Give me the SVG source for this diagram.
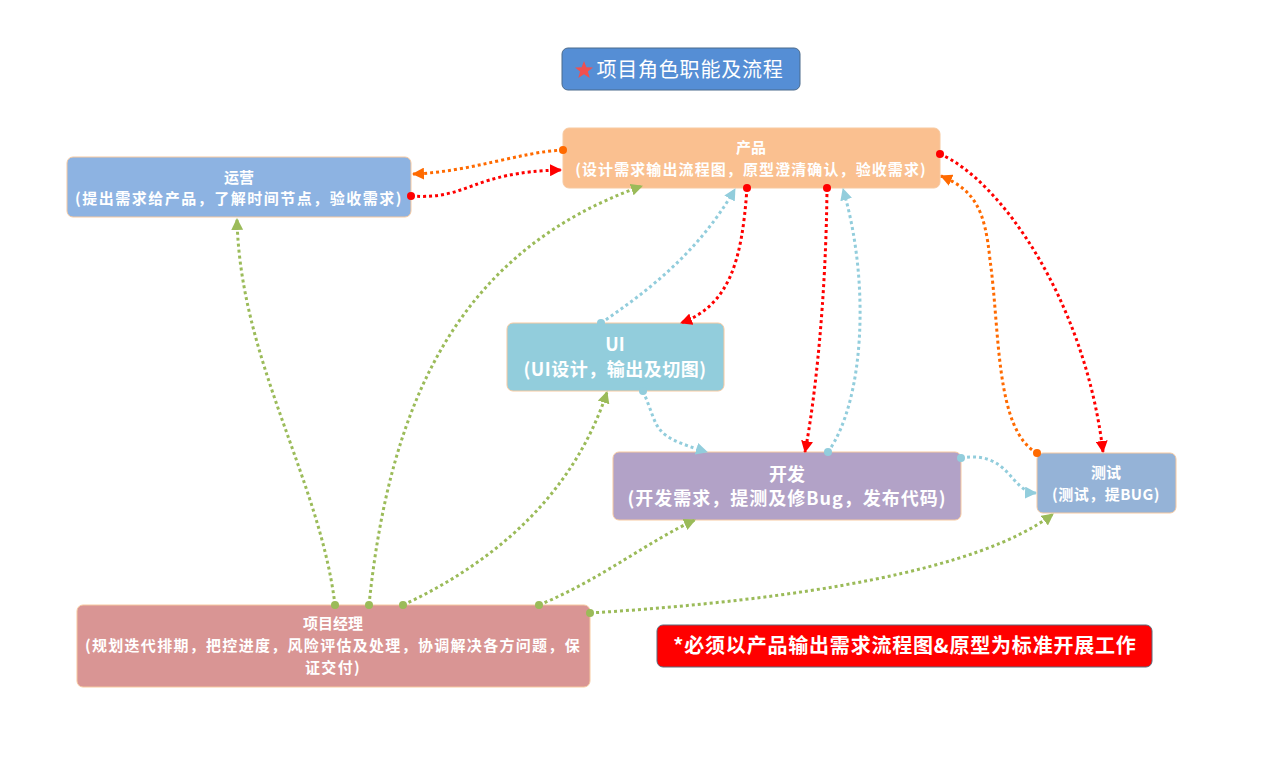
<svg xmlns="http://www.w3.org/2000/svg" width="1267" height="765" viewBox="0 0 1267 765">
<style>
text{font-family:"Microsoft YaHei","Noto Sans CJK SC","Noto Sans",sans-serif;fill:#fff;text-anchor:middle;font-weight:bold}
.box{stroke:#F7C9A0;stroke-width:1}
.c{fill:none;stroke-width:3;stroke-dasharray:3 3}
.g{stroke:#9BBB59}.r{stroke:#FF0000}.o{stroke:#FF6A00}.b{stroke:#92CDDC}
.dg{fill:#9BBB59}.dr{fill:#FF0000}.do{fill:#FF6A00}.db{fill:#92CDDC}
</style>
<defs>
<marker id="ag" viewBox="0 0 12 12" refX="11" refY="6" markerWidth="12" markerHeight="12" markerUnits="userSpaceOnUse" orient="auto"><path d="M0,0 L12,6 L0,12 Z" fill="#9BBB59"/></marker>
<marker id="ar" viewBox="0 0 12 12" refX="11" refY="6" markerWidth="12" markerHeight="12" markerUnits="userSpaceOnUse" orient="auto"><path d="M0,0 L12,6 L0,12 Z" fill="#FF0000"/></marker>
<marker id="ao" viewBox="0 0 12 12" refX="11" refY="6" markerWidth="12" markerHeight="12" markerUnits="userSpaceOnUse" orient="auto"><path d="M0,0 L12,6 L0,12 Z" fill="#FF6A00"/></marker>
<marker id="ab" viewBox="0 0 12 12" refX="11" refY="6" markerWidth="12" markerHeight="12" markerUnits="userSpaceOnUse" orient="auto"><path d="M0,0 L12,6 L0,12 Z" fill="#92CDDC"/></marker>
</defs>
<rect width="1267" height="765" fill="#fff"/>

<g id="title">
<rect x="562" y="48" width="238" height="42" rx="6" fill="#558ED5" stroke="#4A6A8C" stroke-width="1"/>
<path d="M584,61 L586.4,67.2 L593,67.4 L587.9,71.5 L589.7,78 L584,74.3 L578.3,78 L580.1,71.5 L575,67.4 L581.6,67.2 Z" fill="#F05050"/>
<text x="690" y="77" style="font-size:20px;font-weight:normal;letter-spacing:0.8px">项目角色职能及流程</text>
</g>

<g id="yunying">
<rect class="box" x="67" y="157" width="344" height="60" rx="6" fill="#8DB3E2"/>
<text x="239" y="183" style="font-size:15px">运营</text>
<text x="239" y="204" style="font-size:15px;letter-spacing:1.5px">(提出需求给产品，了解时间节点，验收需求)</text>
</g>

<g id="chanpin">
<rect class="box" x="563" y="128" width="377" height="60" rx="6" fill="#FAC090"/>
<text x="751" y="153" style="font-size:15px">产品</text>
<text x="751" y="175" style="font-size:15px;letter-spacing:1.1px">(设计需求输出流程图，原型澄清确认，验收需求)</text>
</g>

<g id="ui">
<rect class="box" x="507" y="323" width="217" height="68" rx="6" fill="#92CDDC"/>
<text x="615" y="351" style="font-size:18px">UI</text>
<text x="615" y="376" style="font-size:18px;letter-spacing:0.5px">(UI设计，输出及切图)</text>
</g>

<g id="kaifa">
<rect class="box" x="613" y="452" width="348" height="68" rx="6" fill="#B2A2C7"/>
<text x="787" y="481" style="font-size:18px">开发</text>
<text x="787" y="505" style="font-size:18px;letter-spacing:1px">(开发需求，提测及修Bug，发布代码)</text>
</g>

<g id="ceshi">
<rect class="box" x="1037" y="453" width="139" height="60" rx="6" fill="#95B3D7"/>
<text x="1106" y="478" style="font-size:15px">测试</text>
<text x="1106" y="500" style="font-size:15px;letter-spacing:0.5px">(测试，提BUG)</text>
</g>

<g id="pm">
<rect class="box" x="77" y="605" width="513" height="82" rx="6" fill="#D99594"/>
<text x="333" y="629" style="font-size:15px">项目经理</text>
<text x="333" y="651" style="font-size:15px;letter-spacing:1.3px">(规划迭代排期，把控进度，风险评估及处理，协调解决各方问题，保</text>
<text x="333" y="673" style="font-size:15px;letter-spacing:1.3px">证交付)</text>
</g>

<g id="note">
<rect x="657" y="625" width="495" height="42" rx="6" fill="#FF0000" stroke="#5A6A7A" stroke-width="1"/>
<text x="905" y="653" style="font-size:20px;letter-spacing:0.8px">*必须以产品输出需求流程图&amp;原型为标准开展工作</text>
</g>

<g id="connectors">
<path class="c o" d="M563,150 C520,152 470,172 413,174" marker-end="url(#ao)"/>
<circle class="do" cx="563" cy="150" r="4"/>
<path class="c r" d="M411,196 C470,200 470,172 561,170" marker-end="url(#ar)"/>
<circle class="dr" cx="411" cy="196" r="4"/>
<path class="c g" d="M335,605 C320,480 240,360 237,219" marker-end="url(#ag)"/>
<circle class="dg" cx="335" cy="605" r="4"/>
<path class="c g" d="M369,605 C390,400 460,250 642,186" marker-end="url(#ag)"/>
<circle class="dg" cx="369" cy="605" r="4"/>
<path class="c g" d="M403,605 C500,560 575,490 607,392" marker-end="url(#ag)"/>
<circle class="dg" cx="403" cy="605" r="4"/>
<path class="c g" d="M539,605 C600,580 650,540 695,520" marker-end="url(#ag)"/>
<circle class="dg" cx="539" cy="605" r="4"/>
<path class="c g" d="M590,613 C800,600 980,570 1053,514" marker-end="url(#ag)"/>
<circle class="dg" cx="590" cy="613" r="4"/>
<path class="c b" d="M601,323 C650,290 700,250 735,189" marker-end="url(#ab)"/>
<circle class="db" cx="601" cy="323" r="4"/>
<path class="c r" d="M747,188 C742,260 730,305 681,323" marker-end="url(#ar)"/>
<circle class="dr" cx="747" cy="188" r="4"/>
<path class="c r" d="M827,188 C826,300 815,400 805,452" marker-end="url(#ar)"/>
<circle class="dr" cx="827" cy="188" r="4"/>
<path class="c b" d="M828,452 C865,400 870,280 843,189" marker-end="url(#ab)"/>
<circle class="db" cx="828" cy="452" r="4"/>
<path class="c b" d="M643,391 C660,430 650,435 707,452" marker-end="url(#ab)"/>
<circle class="db" cx="643" cy="391" r="4"/>
<path class="c r" d="M940,154 C1000,180 1085,300 1103,452" marker-end="url(#ar)"/>
<circle class="dr" cx="940" cy="154" r="4"/>
<path class="c o" d="M1037,453 C995,430 1000,330 990,260 C985,210 975,190 941,176" marker-end="url(#ao)"/>
<circle class="do" cx="1037" cy="453" r="4"/>
<path class="c b" d="M961,458 C1010,450 1010,492 1036,493" marker-end="url(#ab)"/>
<circle class="db" cx="961" cy="458" r="4"/>
</g>
</svg>
